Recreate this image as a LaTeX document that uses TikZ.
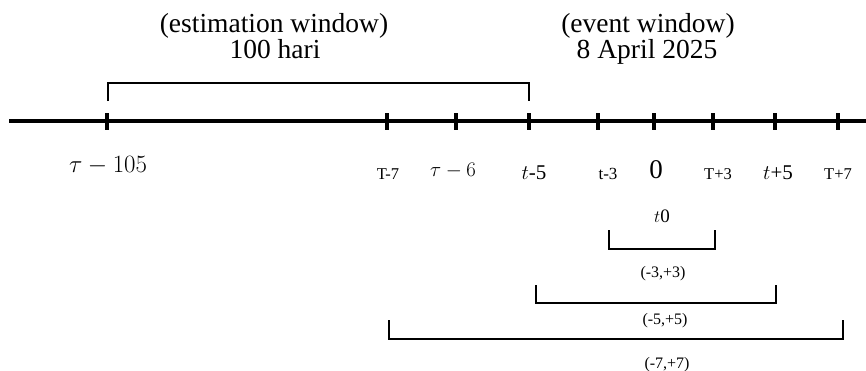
\documentclass[tikz,border=0pt]{standalone}
\usepackage{fontspec}
\setmainfont{Liberation Serif}
\begin{document}
\begin{tikzpicture}[x=1pt,y=-1pt,
  axisline/.style={line width=4pt},
  tickmark/.style={line width=3.5pt},
  bracketline/.style={line width=2.4pt},
  bigtext/.style={font=\fontsize{27.5}{30}\selectfont, anchor=base, inner sep=0pt},
  mathlab/.style={font=\fontsize{22}{26}\selectfont, anchor=base, inner sep=0pt},
  smalllab/.style={font=\fontsize{16.5}{19}\selectfont, anchor=base, inner sep=0pt},
  winlab/.style={font=\fontsize{16}{19}\selectfont, anchor=base, inner sep=0pt}]
\useasboundingbox (0,0) rectangle (866,370);
% axis
\coordinate (L) at (9,121);
\coordinate (R) at (866,121);
\draw[axisline] (L) -- (R);
% ticks
\foreach \n/\x in {a/107,b/387,c/456,d/529,e/598,f/654,g/713,h/775,i/838}{
  \coordinate (\n top) at (\x,113);
  \coordinate (\n bot) at (\x,130);
  \draw[tickmark] (\n top) -- (\n bot);
}
% estimation window bracket
\coordinate (e1) at (108,101);
\coordinate (e2) at (108,83);
\coordinate (e3) at (529,83);
\coordinate (e4) at (529,101);
\draw[bracketline] (e1) -- (e2) -- (e3) -- (e4);
% top texts
\node[bigtext] (est) at (274,32) {(estimation window)};
\node[bigtext] (hari) at (275,58) {100 hari};
\node[bigtext] (ev) at (648,32) {(event window)};
\node[bigtext] (apr) at (647,58) {8 April 2025};
% tick labels
\node[mathlab, font=\fontsize{24.5}{28}\selectfont] (la) at (108,172) {$\tau - 105$};
\node[smalllab] (lb) at (388,179) {T-7};
\node[mathlab] (lc) at (453,176) {$\tau - 6$};
\node[font=\fontsize{21}{24}\selectfont, anchor=base, inner sep=0pt] (ld) at (534,179) {$t$-5};
\node[font=\fontsize{17}{20}\selectfont, anchor=base, inner sep=0pt] (le) at (608,179) {t-3};
\node[font=\fontsize{27}{30}\selectfont, anchor=base, inner sep=0pt] (lf) at (656,178) {0};
\node[smalllab] (lg) at (718,179) {T+3};
\node[font=\fontsize{21}{24}\selectfont, anchor=base, inner sep=0pt] (lh) at (778,179) {$t$+5};
\node[smalllab] (li) at (838,179) {T+7};
% t0
\node[font=\fontsize{19}{22}\selectfont, anchor=base, inner sep=0pt] (tz) at (662,222) {$t$0};
% event brackets
\coordinate (p1) at (609,230);
\coordinate (p2) at (609,249);
\coordinate (p3) at (715,249);
\coordinate (p4) at (715,230);
\draw[bracketline] (p1) -- (p2) -- (p3) -- (p4);
\node[winlab] (w3) at (663,277) {(-3,+3)};
\coordinate (q1) at (536,285);
\coordinate (q2) at (536,303);
\coordinate (q3) at (776,303);
\coordinate (q4) at (776,285);
\draw[bracketline] (q1) -- (q2) -- (q3) -- (q4);
\node[winlab] (w5) at (665,324) {(-5,+5)};
\coordinate (r1) at (389,320);
\coordinate (r2) at (389,339);
\coordinate (r3) at (843,339);
\coordinate (r4) at (843,320);
\draw[bracketline] (r1) -- (r2) -- (r3) -- (r4);
\node[winlab] (w7) at (667,368) {(-7,+7)};
\end{tikzpicture}
\end{document}
